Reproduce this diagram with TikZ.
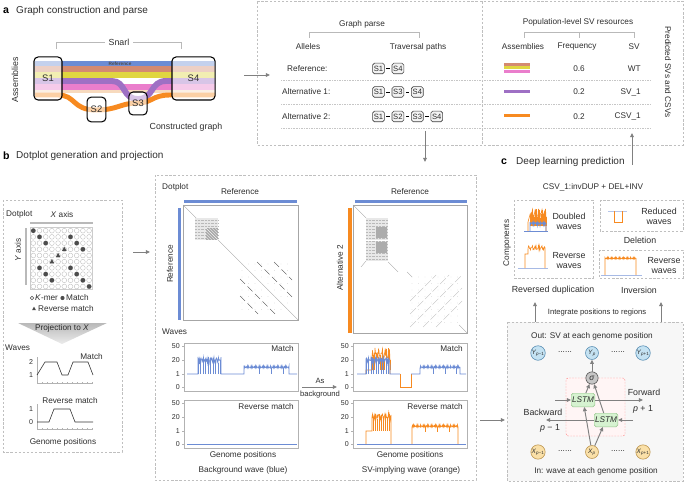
\documentclass[tikz,border=0pt]{standalone}
\usepackage{fontspec}
\setmainfont{Liberation Sans}
\usetikzlibrary{arrows.meta,positioning,calc}

\definecolor{refblue}{RGB}{108,140,212}
\definecolor{asalmon}{RGB}{212,138,112}
\definecolor{ayellow}{RGB}{224,214,64}
\definecolor{apurple}{RGB}{158,112,196}
\definecolor{apink}{RGB}{234,126,204}
\definecolor{apeach}{RGB}{247,218,190}
\definecolor{aorange}{RGB}{247,138,32}
\definecolor{ycirc}{RGB}{196,226,242}
\definecolor{ydraw}{RGB}{86,140,178}
\definecolor{xcirc}{RGB}{250,224,168}
\definecolor{xdraw}{RGB}{186,146,74}
\definecolor{lstmfill}{RGB}{214,242,208}
\definecolor{lstmdraw}{RGB}{150,196,140}
\definecolor{txt}{RGB}{45,45,45}

% frame of one wave panel: #1 left x, #2 top y, #3 name prefix
\newcommand{\waveaxes}[3]{%
  \draw[gray!60, line width=0.4pt] (#1,#2) rectangle ({#1+114},{#2+48});
  \foreach \v/\dy in {50/3,20/17,1/31,0/44}{
    \draw[gray!60, line width=0.4pt] (#1,{#2+\dy}) -- ({#1-2},{#2+\dy});
    \node[tick, anchor=east] (#3\v) at ({#1-4},{#2+\dy}) {\v};
  }%
}

\begin{document}
\begin{tikzpicture}[x=0.85pt, y=-0.85pt,
  declare function={nz(\t,\k)=abs(sin(mod(\t,30)*\k));},
  every node/.style={font=\fontsize{7}{8}\selectfont, text=txt, inner sep=0pt},
  ttl/.style={font=\fontsize{8.5}{10}\selectfont, anchor=west},
  letter/.style={font=\fontsize{9}{10}\selectfont\bfseries, text=black, anchor=west},
  tick/.style={font=\fontsize{6}{7}\selectfont, text=txt},
  note/.style={font=\fontsize{6.5}{7}\selectfont},
  dbox/.style={draw=gray!50, dash pattern=on 2pt off 1.5pt, line width=0.5pt},
  dsep/.style={draw=gray!45, dash pattern=on 0.7pt off 0.7pt, line width=0.5pt},
  brk/.style={draw=gray!55, line width=0.5pt},
  snode/.style={draw=black, line width=0.9pt, rounded corners=3.5pt, fill=white,
    fill opacity=0.6, text opacity=1, font=\fontsize{8}{9}\selectfont},
  pnode/.style={draw=black!75, line width=0.5pt, rounded corners=1.5pt, fill=gray!10,
    minimum width=10pt, minimum height=9pt, font=\fontsize{6.5}{7}\selectfont},
  arr/.style={draw=gray, line width=0.8pt, -{Triangle[length=3.5pt,width=3.2pt]}},
  blu/.style={draw=refblue, line width=0.5pt},
  org/.style={draw=aorange, line width=0.5pt},
  gwave/.style={draw=gray!40!black, line width=0.5pt},
  ynode/.style={circle, draw=ydraw, fill=ycirc, line width=0.5pt, minimum size=11pt,
    font=\fontsize{5.5}{5.5}\selectfont},
  xnode/.style={circle, draw=xdraw, fill=xcirc, line width=0.5pt, minimum size=11pt,
    font=\fontsize{5.5}{5.5}\selectfont},
  lstm/.style={draw=lstmdraw, fill=lstmfill, rounded corners=1.5pt, minimum width=20pt,
    minimum height=11.5pt, font=\fontsize{7}{8}\selectfont\itshape}
  ]
  \useasboundingbox (0,0) rectangle (685,482);

  % ---------------- a: graph construction and parse
  \node[letter] (la) at (3,11) {a};
  \node[ttl] (ta) at (16,11) {Graph construction and parse};
  \draw[brk] (56,49) -- (56,42) -- (181,42) -- (181,49);
  \node[fill=white, inner xsep=3pt, font=\fontsize{7.5}{8}\selectfont] (snarl) at (119,42) {Snarl};
  \node[rotate=90, font=\fontsize{7.5}{8}\selectfont] (asm) at (15,80) {Assemblies};
  \fill[refblue] (35,61) rectangle (215,66.5);
  \fill[asalmon] (35,66.5) rectangle (215,72);
  \fill[ayellow] (35,72) rectangle (215,78);
  \fill[apink] (35,84) rectangle (215,90);
  \fill[apeach] (35,90) rectangle (215,93);
  \node[font=\fontsize{4}{4}\selectfont\bfseries, text=black!70] (refband) at (120,63.8) {Reference};
  \draw[apurple, line width=5pt] (35,81) -- (112,81)
    .. controls (126,81) and (122,99) .. (138,99)
    .. controls (154,99) and (150,81) .. (166,81) -- (215,81);
  \draw[aorange, line width=4.2pt] (35,95) -- (58,95)
    .. controls (76,95) and (72,110) .. (96,110)
    .. controls (118,110) and (120,103) .. (138,103)
    .. controls (152,103) and (152,95) .. (170,95) -- (215,95);
  \node[snode, minimum width=23.8pt, minimum height=36.6pt] (s1) at (48,78.5) {S1};
  \node[snode, minimum width=36.6pt, minimum height=36.6pt] (s4) at (193.5,78.5) {S4};
  \node[snode, minimum width=16pt, minimum height=21pt] (s2) at (96.5,109.5) {S2};
  \node[snode, minimum width=15.5pt, minimum height=19.5pt] (s3) at (138,103.5) {S3};
  \node[font=\fontsize{7.5}{8}\selectfont] (cg) at (186,127) {Constructed graph};

  \coordinate (aout) at (244,75);
  \coordinate (pin) at (270,75);
  \draw[arr] (aout) -- (pin);

  % parse and population boxes
  \draw[dbox] (257,1.5) rectangle (683,145);
  \draw[dbox] (482,1.5) -- (482,145);
  \node (gp) at (362,24) {Graph parse};
  \draw[brk] (309,38) -- (309,32) -- (419,32) -- (419,38);
  \node (alle) at (308,47) {Alleles};
  \node (trav) at (418,47) {Traversal paths};
  \node[anchor=west] (rref) at (287,68.5) {Reference:};
  \node[anchor=west] (ralt1) at (282,92) {Alternative 1:};
  \node[anchor=west] (ralt2) at (282,116.5) {Alternative 2:};
  \foreach \y in {80,104,128} \draw[dsep] (281,\y) -- (650,\y);

  \node[pnode] (r1) at (378.5,68.5) {S1};
  \node[pnode, right=6pt of r1] (r4) {S4};
  \node[pnode] (a11) at (378.5,92) {S1};
  \node[pnode, right=6pt of a11] (a13) {S3};
  \node[pnode, right=6pt of a13] (a14) {S4};
  \node[pnode] (a21) at (378.5,116.5) {S1};
  \node[pnode, right=6pt of a21] (a22) {S2};
  \node[pnode, right=6pt of a22] (a23) {S3};
  \node[pnode, right=6pt of a23] (a24) {S4};
  \foreach \a/\b in {r1/r4,a11/a13,a13/a14,a21/a22,a22/a23,a23/a24}
    \draw[line width=0.7pt, shorten <=1.5pt, shorten >=1.5pt] (\a) -- (\b);

  \node (pop) at (578,22) {Population-level SV resources};
  \draw[brk] (524,38) -- (524,32) -- (634,32) -- (634,38) (579,32) -- (579,38);
  \node (hasm) at (523,47) {Assemblies};
  \node (hfrq) at (577,47) {Frequency};
  \node (hsv) at (634,47) {SV};
  \fill[asalmon] (504,63) rectangle (530,66);
  \fill[ayellow] (504,66.5) rectangle (530,69.5);
  \fill[apink] (504,70) rectangle (530,73);
  \fill[apurple] (504,90.5) rectangle (530,93.5);
  \fill[aorange] (504,114.5) rectangle (530,117.5);
  \node (f1) at (579,68.5) {0.6};
  \node (f2) at (579,92) {0.2};
  \node (f3) at (579,116.5) {0.2};
  \node[anchor=east] (sv1) at (641,68.5) {WT};
  \node[anchor=east] (sv2) at (641,92) {SV\_1};
  \node[anchor=east] (sv3) at (641,116.5) {CSV\_1};
  \node[rotate=-90] (pred) at (668,72) {Predicted SVs and CSVs};

  \coordinate (pd1) at (425,131);
  \coordinate (pd2) at (425,162);
  \draw[arr] (pd1) -- (pd2);
  \coordinate (cu1) at (632,165);
  \coordinate (cu2) at (632,133);
  \draw[arr] (cu1) -- (cu2);

  % ---------------- b: dotplot generation and projection
  \node[letter] (lb) at (3,156) {b};
  \node[ttl] (tb) at (16,156) {Dotplot generation and projection};
  \draw[dbox] (3,200) rectangle (122,452);
  \node[anchor=west] (dp1) at (6,214) {Dotplot};
  \node (xax) at (62,215) {\textit{X} axis};
  \fill[gray!55] (30,221.5) rectangle (92.5,224);
  \fill[gray!55] (24.5,227.5) rectangle (27,285);
  \node[rotate=90] (yax) at (18,250) {\textit{Y} axis};
  \draw[gray!40, line width=0.3pt] (30,227.5) rectangle (92.5,289.5);
  \foreach \i in {0,...,9}
    \foreach \j in {0,...,9}
      \draw[gray!55, line width=0.3pt] ({33.3+6.2*\i},{230.7+6.2*\j}) circle (2.4);
  \foreach \i/\j in {0/0,1/1,2/2,6/1,7/2,8/3,1/6,2/7,3/8,6/6,7/7,8/8,9/9}
    \fill[gray!60!black] ({33.3+6.2*\i},{230.7+6.2*\j}) circle (2.3);
  \foreach \i/\j in {5/3,4/4,3/5}
    \fill[gray!60!black] ({33.3+6.2*\i},{230.7+6.2*\j-2.6}) -- ++(2.3,4.2) -- ++(-4.6,0) -- cycle;
  \draw[gray!60!black, line width=0.4pt] (32,298) circle (1.8);
  \node[anchor=west] (lkmer) at (35,298) {\textit{K}-mer};
  \fill[gray!60!black] (62.5,298) circle (2.1);
  \node[anchor=west] (lmatch) at (66,298) {Match};
  \fill[gray!60!black] (34,306.6) -- ++(2,3.6) -- ++(-4,0) -- cycle;
  \node[anchor=west] (lrev) at (38,309) {Reverse match};
  \shade[top color=gray!55, bottom color=gray!15] (18,323) -- (107,323) -- (62,344) -- cycle;
  \node (proj) at (62,328.5) {Projection to \textit{X}};

  \node[anchor=west] (wv1) at (5,348) {Waves};
  \node[anchor=east] (mt1) at (103,357) {Match};
  \node[tick] (t2) at (31,362) {2};
  \node[tick] (t1) at (31,375) {1};
  \draw[gray!60, line width=0.4pt] (37,357) -- (37,383) -- (93,383);
  \foreach \x in {42,47,...,92} \draw[gray!60, line width=0.4pt] (\x,383) -- (\x,381.5);
  \draw[gwave] (37,375) -- (45,362) -- (57,362) -- (62,375) -- (68,375) -- (73,362) -- (88,362) -- (93,375);
  \node (rt1) at (70,401) {Reverse match};
  \node[tick] (t1b) at (31,409) {1};
  \node[tick] (t0b) at (31,422) {0};
  \draw[gray!60, line width=0.4pt] (37,404) -- (37,429) -- (93,429);
  \foreach \x in {42,47,...,92} \draw[gray!60, line width=0.4pt] (\x,429) -- (\x,427.5);
  \draw[gwave] (37,422) -- (49,422) -- (54,409) -- (70,409) -- (75,422) -- (93,422);
  \node (gpos1) at (63,442) {Genome positions};

  \coordinate (bo1) at (133,252);
  \coordinate (bo2) at (150,252);
  \draw[arr] (bo1) -- (bo2);

  % middle box: dotplots and waves
  \draw[dbox] (155,175) rectangle (476,480);
  \node[anchor=west] (dp2) at (162,187) {Dotplot};
  \node (rtop1) at (240,192) {Reference};
  \fill[refblue] (184,200.5) rectangle (297,203.5);
  \fill[refblue] (178,208) rectangle (181,320);
  \node[rotate=90] (rleft1) at (170,264) {Reference};
  \draw[gray!70, line width=0.5pt] (183,205) rectangle (298,320);
  \draw[gray!70, line width=0.3pt] (183,205) -- (298,320);
  \fill[gray!18] (195,218) rectangle (218,240);
  \foreach \y in {220,223,...,238} \draw[gray!55, line width=0.25pt, dash pattern=on 0.6pt off 0.6pt] (195,\y) -- (218,\y);
  \fill[gray!65] (206,228) rectangle (218,240);
  \foreach \k in {0,3,...,9} {
    \draw[white, line width=0.25pt] (206,{228+\k}) -- ({206+12-\k},240);
    \draw[white, line width=0.25pt] ({206+\k},228) -- (218,{240-\k});
  }
  \foreach \i in {0,...,7}
    \foreach \j in {0,...,7}
      \fill[gray!35] ({242+6.5*\i},{264+6.5*\j}) circle (0.45);
  \foreach \k in {-34,-17,17,34}
    \draw[gray!55!black, line width=0.3pt, dash pattern=on 6pt off 3pt]
      ({240+max(0,\k)},{262+max(0,-\k)}) -- ({292-max(0,-\k)},{314-max(0,\k)});

  \node (rtop2) at (410,192) {Reference};
  \fill[refblue] (355,200.5) rectangle (467,203.5);
  \fill[aorange] (348,208) rectangle (351.5,333);
  \node[rotate=90] (aleft2) at (340,268) {Alternative 2};
  \draw[gray!70, line width=0.5pt] (353,205) rectangle (467,333);
  \draw[gray!70, line width=0.3pt] (353,205) -- (366,218);
  \fill[gray!18] (366,218) rectangle (388,261);
  \foreach \y in {220,223,...,259} \draw[gray!55, line width=0.25pt, dash pattern=on 0.6pt off 0.6pt] (366,\y) -- (388,\y);
  \fill[gray!65] (376,227) rectangle (387,238);
  \fill[gray!65] (376,242) rectangle (387,253);
  \draw[white, line width=0.6pt] (366,240) -- (388,240);
  \draw[gray!70, line width=0.3pt] (366,261) -- (361,267);
  \draw[gray!70, line width=0.3pt] (388,262) -- (398,272);
  \draw[gray!70, line width=0.3pt] (407,272) -- (412,277);
  \foreach \i in {0,...,7}
    \foreach \j in {0,...,7}
      \fill[gray!30] ({412+6.5*\i},{277+6.5*\j}) circle (0.45);
  \foreach \k in {-26,-13,0,13,26}
    \draw[gray!50, line width=0.3pt, dash pattern=on 7pt off 2pt]
      ({410+max(0,\k)},{327-max(0,-\k)}) -- ({462-max(0,-\k)},{275+max(0,\k)});
  \draw[gray!70, line width=0.3pt] (459,325) -- (467,333);

  \node[anchor=west] (wv2) at (162,332) {Waves};
  \waveaxes{184}{343}{lm}
  \waveaxes{184}{400}{lr}
  \waveaxes{353}{343}{rm}
  \waveaxes{353}{400}{rr}
  \node[anchor=east] (mt2) at (294,349) {Match};
  \node[anchor=east] (mt3) at (463,349) {Match};
  \node[anchor=east] (rt2) at (294,407) {Reverse match};
  \node[anchor=east] (rt3) at (463,407) {Reverse match};

  % background wave (blue)
  \draw[blu] (187,374) -- (198,374) -- (198,368)
    -- plot[domain=198:221, samples=47] (\x,{365-5*nz(\x,157)-3*nz(\x,433)})
    -- (221,374) -- (244,374) -- (244,368)
    -- plot[domain=244:289, samples=91] (\x,{368-2.5*nz(\x,157)^4})
    -- (289,374) -- (297,374);
  \foreach \x in {198,200.5,...,221}
    \draw[blu] (\x,374) -- (\x,{365-5*nz(\x,157)-3*nz(\x,433)});
  \foreach \x in {259,271,283} \draw[blu] (\x,368) -- (\x,374);
  \draw[blu] (187,444) -- (297,444);

  % SV-implying wave (orange)
  \draw[org] (366,374) -- (366,370) -- (372,370) -- (372,362)
    -- plot[domain=372:390, samples=37] (\x,{360-13*nz(\x,211)*nz(\x,53)})
    -- (390,374);
  \foreach \x in {372,374,...,390}
    \draw[org] (\x,370) -- (\x,{360-13*nz(\x,211)*nz(\x,53)});
  \draw[org] (400,374) -- (400,387) -- (411,387) -- (411,374);
  \draw[blu] (357,374) -- (366,374) -- (366,368)
    -- plot[domain=366:390, samples=49] (\x,{365-5*nz(\x,157)-3*nz(\x,433)})
    -- (390,374) -- (400,374);
  \foreach \x in {366,368.5,...,390}
    \draw[blu] (\x,374) -- (\x,{365-5*nz(\x,157)-3*nz(\x,433)});
  \draw[blu] (411,374) -- (420,374) -- (420,368)
    -- plot[domain=420:460, samples=81] (\x,{368-2.5*nz(\x,157)^4})
    -- (460,374) -- (466,374);
  \foreach \x in {433,445,456} \draw[blu] (\x,368) -- (\x,374);
  \draw[blu] (357,444) -- (466,444);
  \draw[org] (366,444) -- (366,431) -- (372,431) -- (372,422)
    -- plot[domain=372:391, samples=39] (\x,{420-6*nz(\x,211)*nz(\x,53)-2*nz(\x,97)})
    -- (391,444);
  \foreach \x in {373,375,...,390}
    \draw[org] (\x,431) -- (\x,{420-6*nz(\x,211)*nz(\x,53)-2*nz(\x,97)});
  \draw[org] (412,444) -- (412,427)
    -- plot[domain=412:458, samples=93] (\x,{427-2.5*nz(\x,157)^4})
    -- (458,444);
  \foreach \x in {425,437,449} \draw[org] (\x,427) -- (\x,432);

  \node (gpos2) at (243,455) {Genome positions};
  \node (gpos3) at (410,455) {Genome positions};
  \node (bgw) at (243,470) {Background wave (blue)};
  \node (svw) at (411,470) {SV-implying wave (orange)};

  \coordinate (bg1) at (302,387);
  \coordinate (bg2) at (337,387);
  \draw[arr] (bg1) -- (bg2);
  \node[note] (as) at (320,381) {As};
  \node[note] (bgt) at (320,395) {background};

  \coordinate (mo1) at (480,420);
  \coordinate (mo2) at (505,420);
  \draw[arr] (mo1) -- (mo2);

  % ---------------- c: deep learning prediction
  \node[letter] (lc) at (501,162) {c};
  \node[ttl] (tc) at (516,162) {Deep learning prediction};
  \node (csv) at (593,187) {CSV\_1:invDUP + DEL+INV};
  \node[rotate=90] (comp) at (507,243) {Components};
  \draw[dbox] (514,200) rectangle (593,278);
  \draw[dbox] (600,200) rectangle (683,231);
  \draw[dbox] (599,250) rectangle (683,278);

  \draw[blu] (524,231) -- (548,231);
  \draw[org] (528,231) -- (528,222)
    -- plot[domain=530:546, samples=33] (\x,{218-10*nz(\x,211)*nz(\x,53)}) -- (546,231);
  \foreach \x in {530,531,...,546}
    \draw[org] (\x,226) -- (\x,{218-10*nz(\x,211)*nz(\x,53)});
  \draw[blu] (530,231) -- plot[domain=530:546, samples=33] (\x,{226-4*nz(\x,157)}) -- (546,231);
  \node[align=center, font=\fontsize{7.5}{8.5}\selectfont] (dbl) at (569,221) {Doubled\\waves};

  \draw[draw=refblue!60, line width=0.5pt] (518,268) -- (548,268);
  \draw[org] (525,268) -- (525,254) -- (528,254)
    -- plot[domain=528:545, samples=35] (\x,{250-5*nz(\x,211)*nz(\x,53)}) -- (545,268);
  \node[align=center, font=\fontsize{7.5}{8.5}\selectfont] (rw1) at (569,261) {Reverse\\waves};

  \draw[draw=refblue!50, line width=0.6pt] (608,211) -- (627,211);
  \draw[org] (614,211) -- (614,222) -- (622,222) -- (622,211);
  \node[align=center, font=\fontsize{7.5}{8.5}\selectfont] (redw) at (659,216) {Reduced\\waves};
  \node[font=\fontsize{7.5}{8}\selectfont] (del) at (640,240) {Deletion};

  \draw[draw=refblue!60, line width=0.5pt] (601,275) -- (642,275);
  \draw[org] (605,275) -- (605,259)
    -- plot[domain=605:636, samples=63] (\x,{259-2*nz(\x,157)^4}) -- (636,275);
  \node[align=center, font=\fontsize{7.5}{8.5}\selectfont] (rw2) at (664,266) {Reverse\\waves};

  \node[font=\fontsize{7.5}{8}\selectfont] (rdup) at (553,290) {Reversed duplication};
  \node[font=\fontsize{7.5}{8}\selectfont] (inv) at (639,290) {Inversion};

  \coordinate (up1a) at (535,322);
  \coordinate (up1b) at (535,302);
  \coordinate (up2a) at (661,322);
  \coordinate (up2b) at (661,302);
  \draw[arr] (up1a) -- (up1b);
  \draw[arr] (up2a) -- (up2b);
  \node[note] (integ) at (597,313) {Integrate positions to regions};

  \draw[dbox, fill=gray!6] (507,322) rectangle (683,481);
  \node (outl) at (592,336) {Out: SV at each genome position};
  \node[ynode] (yl) at (538,353) {\textit{Y}\textsubscript{\textit{p}−1}};
  \node[ynode] (yc) at (592,353) {\textit{Y}\textsubscript{\textit{p}}};
  \node[ynode] (yr) at (643,353) {\textit{Y}\textsubscript{\textit{p}+1}};
  \node (yd1) at (565,352) {......};
  \node (yd2) at (618,352) {......};

  \draw[red!45, dash pattern=on 1.5pt off 1pt, fill=red!4, rounded corners=2pt] (566,378) rectangle (625,436);
  \node[circle, draw=gray!60!black, fill=gray!45, line width=0.5pt, minimum size=10.5pt] (sig) at (592,378) {\textit{σ}};
  \node[lstm] (lstm1) at (583,400) {LSTM};
  \node[lstm] (lstm2) at (606,420) {LSTM};

  \node[xnode] (xl) at (538,452) {\textit{X}\textsubscript{\textit{p}−1}};
  \node[xnode] (xc) at (592,452) {\textit{X}\textsubscript{\textit{p}}};
  \node[xnode] (xr) at (643,452) {\textit{X}\textsubscript{\textit{p}+1}};
  \node (xd1) at (565,451) {......};
  \node (xd2) at (618,451) {......};

  \coordinate (fin) at (555,400);
  \coordinate (fout) at (643,400);
  \coordinate (bin) at (633,420);
  \coordinate (bout) at (546,420);
  \draw[arr] (fin) -- (lstm1);
  \draw[arr] (lstm1) -- (fout);
  \draw[arr] (bin) -- (lstm2);
  \draw[arr] (lstm2) -- (bout);
  \draw[arr] (xc) -- (lstm1);
  \draw[arr] (xc) -- (lstm2);
  \draw[arr] (lstm1) -- (sig);
  \draw[arr] (lstm2) -- (sig);
  \draw[arr] (sig) -- (yc);
  \node[font=\fontsize{7.5}{8}\selectfont] (fwd) at (644,392) {Forward};
  \node[font=\fontsize{7.5}{8}\selectfont] (pp1) at (643,409) {\textit{p} + 1};
  \node[font=\fontsize{7.5}{8}\selectfont] (bwd) at (543,412) {Backward};
  \node[font=\fontsize{7.5}{8}\selectfont] (pm1) at (550,428) {\textit{p} − 1};
  \node (inl) at (596,471) {In: wave at each genome position};
\end{tikzpicture}
\end{document}
